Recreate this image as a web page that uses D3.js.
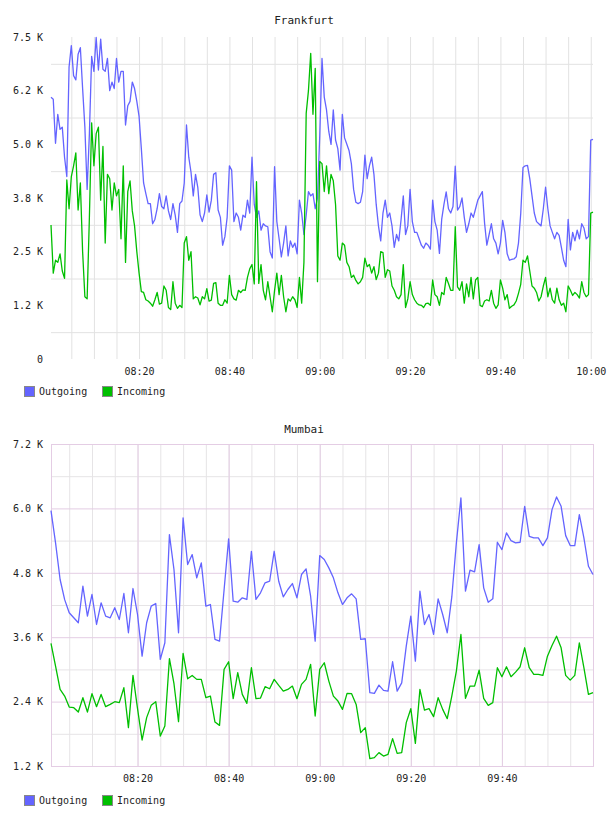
<!DOCTYPE html>
<html>
<head>
<meta charset="utf-8">
<script src="https://cdn.jsdelivr.net/npm/d3@7"></script>
<style>
  body { margin: 0; background: #fff; }
  svg text { font-family: "DejaVu Sans Mono", monospace; fill: #222; }
</style>
</head>
<body>
<svg id="chart" width="608" height="816"></svg>
<script>
// ---- data ----
const seriesNames = ["Outgoing", "Incoming"];
const seriesColors = ["#6464ff", "#00bf00"];

// Frankfurt: one sample every 30 s starting 08:00:30
const frankfurtStart = "08:00:30";
const frankfurtStepSec = 30;
const frankfurtOutgoing = [
  6095, 6050, 5024, 5700, 5350, 5400, 4700, 4250, 6800, 7300,
  6600, 6500, 7100, 7250, 6300, 5400, 3950, 5250, 7050, 6700,
  7490, 6730, 7450, 6750, 6700, 7000, 6250, 6450, 6300, 7000,
  6450, 6700, 6700, 5450, 5900, 6000, 6450, 6300, 6000, 5650,
  4900, 4100, 3850, 3620, 3620, 3150, 3250, 3500, 3850, 3550,
  3500, 3800, 3450, 3250, 3620, 3350, 2950, 3620, 3680, 4100,
  5450, 4700, 4350, 3800, 4300, 4000, 3360, 3200, 3400, 3820,
  3420, 3700, 4300, 4340, 3470, 3300, 2650, 2850, 3300, 4500,
  4400, 3200, 3400, 3300, 3000, 3350, 3300, 3700, 3400, 4700,
  3600, 3300, 3450, 3000, 3150, 3100, 3080, 2500, 2350, 4480,
  3200, 2800, 2380, 2700, 3100, 2400, 2750, 2600, 2700, 2450,
  3700, 3400, 2900, 3350, 3900, 3800, 3850, 3500, 3750, 5200,
  7000, 6100, 5800, 5300, 5000, 5800, 5100, 4900, 4400, 5700,
  5150, 5000, 4850, 4550, 3950, 3650, 3620, 3650, 3900, 4750,
  4200, 4500, 4700, 4300, 3600, 3100, 2750, 3400, 3700, 3300,
  3400, 3100, 2600, 2900, 2750, 3240, 3800, 2900, 3100, 3950,
  3200, 2950, 2950, 2800, 2650, 2580, 2700, 2650, 2560, 3700,
  3200, 3000, 2460, 3250, 3600, 3890, 3500, 3400, 3550, 4490,
  3470, 3550, 3750, 3300, 2950, 3150, 3400, 3300, 3500, 3700,
  3800, 3900, 3160, 2650, 2900, 3150, 2800, 2700, 2450, 2700,
  3230, 2950, 2450, 2300, 2320, 2330, 2380, 2700, 3390, 4460,
  4500, 4510, 4200, 3800, 3400, 3200, 3150, 3100, 3500, 4000,
  3500, 3100, 2950, 2800, 2950, 2880, 2600, 2300, 2150, 3250,
  2540, 2950, 2750, 3000, 2800, 3150, 3050, 2800, 2850, 5100,
  5117
];
const frankfurtIncoming = [
  3121, 2000, 2300, 2250, 2450, 2050, 1880, 4170, 3500, 4250,
  4500, 4800, 3470, 4100, 2500, 1450, 1400, 3300, 5500, 4500,
  5250, 5400, 3700, 4950, 2700, 4300, 4200, 3470, 4100, 3800,
  3950, 2800, 4500, 2250, 3900, 4150, 3450, 3100, 2500, 2000,
  1570, 1550, 1380, 1350, 1300, 1230, 1380, 1550, 1280, 1300,
  1700, 1600, 1200, 1150, 1800, 1300, 1180, 1250, 1200, 2700,
  2850, 2300, 2500, 1400, 1450, 1420, 1260, 1450, 1400, 1640,
  1350, 1370, 1760, 1780, 1300, 1250, 1250, 1380, 1300, 1950,
  1500, 1400, 1370, 1600, 1550, 1610, 1600, 1900, 2100, 2200,
  1750, 4130, 1760, 2200, 1600, 1380, 1800, 1450, 1100, 1600,
  2000, 1500, 1950, 1450, 1100, 1400, 1350, 1450, 1380, 1200,
  1900, 1300, 2250, 5720, 6250, 7120, 5700, 6770, 1800, 4600,
  4550, 3900, 4500, 3850, 4300, 4150, 3600, 2400, 2300, 2700,
  2650, 2250, 2150, 1900, 1950, 1830, 1750, 1800, 1900, 2350,
  2150, 2200, 2000, 2150, 1850, 2000, 2500, 2480, 1900, 2080,
  2050, 1700, 1600, 1450, 1400, 1500, 2200, 1200, 1400, 1800,
  1500, 1380, 1300, 1260, 1250, 1200, 1290, 1300, 1250, 1840,
  1500, 1450, 1250, 1550, 1500, 1900, 1760, 1600, 1600, 3080,
  1680, 1600, 1800, 1300, 1750, 1450, 1900, 1400, 1840, 1900,
  1250, 1220, 1350, 1380, 1350, 1600, 1300, 1180, 1260, 1840,
  1650, 1380, 1500, 1180, 1230, 1260, 1350, 1530, 1740, 2300,
  2250, 2400, 2050, 1700, 1650, 1550, 1350, 1450, 1700, 1900,
  1450, 1650, 1380, 1300, 1650, 1380, 1250, 1300, 1100, 1700,
  1600, 1480, 1550, 1500, 1420, 1800, 1550, 1450, 1500, 3400,
  3420
];
const frankfurtYTicks = [0, 1250, 2500, 3750, 5000, 6250, 7500];
const frankfurtYLabels = ["0", "1.2 K", "2.5 K", "3.8 K", "5.0 K", "6.2 K", "7.5 K"];
const frankfurtTimeLabels = ["08:20", "08:40", "09:00", "09:20", "09:40", "10:00"];

// Mumbai: one sample every minute starting 08:01
const mumbaiStart = "08:01:00";
const mumbaiStepSec = 60;
const mumbaiOutgoing = [
  5959, 5357, 4675, 4300, 4055, 3962, 3869, 4550, 3992, 4396,
  3837, 4241, 3992, 3962, 4148, 3930, 4414, 3683, 4507, 4023,
  3247, 3869, 4178, 4228, 3186, 3496, 5512, 4861, 3683, 5823,
  4954, 5140, 4706, 4985, 4178, 4209, 3558, 3526, 4480, 5432,
  4271, 4252, 4334, 4303, 5201, 4303, 4427, 4613, 4643, 5201,
  4643, 4352, 4489, 4600, 4334, 4768, 4874, 4364, 3526, 5121,
  5047, 4892, 4706, 4427, 4209, 4334, 4408, 4315, 3558, 3571,
  2566, 2553, 2708, 2609, 2596, 3143, 2596, 2750, 3433, 3992,
  3154, 4457, 3837, 4023, 3651, 4315, 4023, 3683, 4350, 5357,
  6195, 4457, 4848, 4818, 5326, 4520, 4252, 4315, 5369, 5233,
  5543, 5400, 5357, 5369, 6039, 5480, 5450, 5450, 5307, 5450,
  5977, 6213, 6039, 5493, 5307, 5307, 5884, 5450, 4922, 4768
];
const mumbaiIncoming = [
  3483, 3061, 2627, 2503, 2298, 2287, 2205, 2473, 2205, 2547,
  2305, 2534, 2305, 2348, 2398, 2380, 2659, 1915, 2888, 2268,
  1684, 2101, 2330, 2398, 1758, 1944, 3199, 2733, 2026, 3297,
  2826, 2888, 2814, 2814, 2473, 2503, 2019, 1957, 3000, 3143,
  2454, 2938, 2534, 2367, 3031, 2454, 2466, 2678, 2640, 2814,
  2702, 2596, 2627, 2689, 2454, 2720, 2814, 3093, 2131, 3000,
  3124, 2782, 2503, 2410, 2255, 2553, 2547, 2348, 1821, 1915,
  1337, 1356, 1449, 1386, 1418, 1710, 1436, 1450, 2008, 2268,
  1622, 2627, 2242, 2268, 2119, 2473, 2255, 2082, 2503, 2968,
  3651, 2460, 2689, 2689, 2987, 2460, 2330, 2380, 3031, 2864,
  3050, 2864, 2949, 3050, 3403, 3031, 2906, 2906, 2888, 3247,
  3446, 3619, 3403, 2888, 2801, 2888, 3496, 3031, 2534, 2566
];
const mumbaiYTicks = [1200, 2400, 3600, 4800, 6000, 7200];
const mumbaiYLabels = ["1.2 K", "2.4 K", "3.6 K", "4.8 K", "6.0 K", "7.2 K"];
const mumbaiTimeLabels = ["08:20", "08:40", "09:00", "09:20", "09:40"];

// ---- drawing ----
const svg = d3.select("#chart");
const parseTime = d3.timeParse("%H:%M:%S");
const parseHM = d3.timeParse("%H:%M");

function drawPanel(p) {
  const g = svg.append("g");
  const start = parseTime(p.start);
  const timeAt = i => d3.timeSecond.offset(start, i * p.step);
  const end = timeAt(p.series[0].length - 1);

  const x = d3.scaleTime()
    .domain([start, p.domainEnd ? parseHM(p.domainEnd) : end])
    .range([p.left, p.right]);
  const y = d3.scaleLinear()
    .domain([p.yTicks[0], p.yTicks[p.yTicks.length - 1]])
    .range([p.bottom, p.top]);

  // vertical grid every 5 minutes
  const minor = d3.timeMinute.every(5).range(start, d3.timeSecond.offset(x.domain()[1], 1));
  const major = p.timeLabels.map(parseHM);
  g.append("g")
    .attr("transform", `translate(0,${p.bottom})`)
    .call(d3.axisBottom(x).tickValues(minor).tickSize(-(p.bottom - p.top)).tickFormat(""))
    .call(a => a.select(".domain").remove())
    .selectAll("line")
    .attr("stroke", p.gridColor);

  // horizontal grid at the half steps
  const halfSteps = d3.pairs(p.yTicks).map(([a, b]) => (a + b) / 2);
  g.append("g")
    .attr("transform", `translate(${p.left},0)`)
    .call(d3.axisLeft(y).tickValues(halfSteps).tickSize(-(p.right - p.left)).tickFormat(""))
    .call(a => a.select(".domain").remove())
    .selectAll("line")
    .attr("stroke", p.gridColor);

  if (p.majorColor) {
    g.append("g")
      .attr("transform", `translate(0,${p.bottom})`)
      .call(d3.axisBottom(x).tickValues(major).tickSize(-(p.bottom - p.top)).tickFormat(""))
      .call(a => a.select(".domain").remove())
      .selectAll("line")
      .attr("stroke", p.majorColor);
    g.append("g")
      .attr("transform", `translate(${p.left},0)`)
      .call(d3.axisLeft(y).tickValues(p.yTicks.slice(1, -1)).tickSize(-(p.right - p.left)).tickFormat(""))
      .call(a => a.select(".domain").remove())
      .selectAll("line")
      .attr("stroke", p.majorColor);
    g.append("rect")
      .attr("x", p.left + 0.5).attr("y", p.top + 0.5)
      .attr("width", p.right - p.left).attr("height", p.bottom - p.top)
      .attr("fill", "none").attr("stroke", p.majorColor);
  }

  // y tick labels
  const yAxis = g.append("g")
    .attr("transform", `translate(${p.left - 8},0)`)
    .call(d3.axisLeft(y).tickValues(p.yTicks).tickSize(0)
      .tickFormat((d, i) => p.yLabels[i]));
  yAxis.select(".domain").remove();
  yAxis.selectAll("text")
    .attr("x", 0)
    .style("font-size", "10px")
    .style("font-family", "DejaVu Sans Mono, monospace")
    .attr("fill", "#222");

  // x tick labels
  const xAxis = g.append("g")
    .attr("transform", `translate(0,${p.bottom + 9})`)
    .call(d3.axisBottom(x).tickValues(major).tickSize(0).tickFormat(d3.timeFormat("%H:%M")));
  xAxis.select(".domain").remove();
  xAxis.selectAll("text")
    .attr("y", 0)
    .style("font-size", "10px")
    .style("font-family", "DejaVu Sans Mono, monospace")
    .attr("fill", "#222");

  // lines
  const line = d3.line()
    .x((d, i) => x(timeAt(i)))
    .y(d => y(d));
  p.series.forEach((s, k) => {
    g.append("path")
      .datum(s)
      .attr("fill", "none")
      .attr("stroke", seriesColors[k])
      .attr("stroke-width", 1.3)
      .attr("stroke-linejoin", "round")
      .attr("d", line);
  });

  // title
  g.append("text")
    .attr("x", 304)
    .attr("y", p.titleY)
    .attr("text-anchor", "middle")
    .style("font-size", "11px")
    .text(p.title);

  // legend
  const leg = g.append("g").attr("transform", `translate(24,${p.legendY})`);
  const items = leg.selectAll("g").data(seriesNames).join("g")
    .attr("transform", (d, i) => `translate(${i * 78},0)`);
  items.append("rect")
    .attr("x", 0.5).attr("y", 0.5)
    .attr("width", 10).attr("height", 10)
    .attr("fill", (d, i) => seriesColors[i])
    .attr("stroke", "#888");
  items.append("text")
    .attr("x", 15).attr("y", 9)
    .style("font-size", "10px")
    .text(d => d);
}

drawPanel({
  title: "Frankfurt", titleY: 24,
  start: frankfurtStart, step: frankfurtStepSec,
  series: [frankfurtOutgoing, frankfurtIncoming],
  yTicks: frankfurtYTicks, yLabels: frankfurtYLabels,
  timeLabels: frankfurtTimeLabels,
  left: 51, right: 593, top: 37, bottom: 359,
  gridColor: "#e2e2e2",
  legendY: 386
});

drawPanel({
  title: "Mumbai", titleY: 433,
  start: mumbaiStart, step: mumbaiStepSec, domainEnd: "10:00",
  series: [mumbaiOutgoing, mumbaiIncoming],
  yTicks: mumbaiYTicks, yLabels: mumbaiYLabels,
  timeLabels: mumbaiTimeLabels,
  left: 51, right: 593, top: 444, bottom: 766,
  gridColor: "#e6e4e6", majorColor: "#e4cde4",
  legendY: 795
});
</script>
</body>
</html>
